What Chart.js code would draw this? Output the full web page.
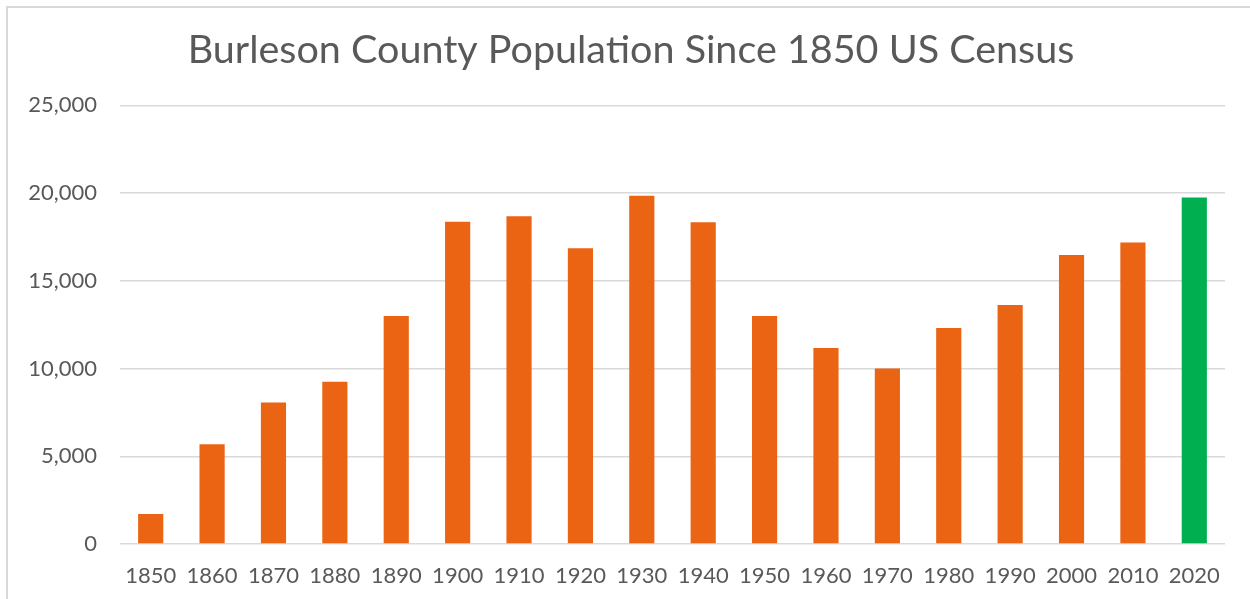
<!DOCTYPE html>
<html>
<head>
<meta charset="utf-8">
<script src="https://cdn.jsdelivr.net/npm/chart.js@4.4.0/dist/chart.umd.min.js"></script>
<style>
  html, body { margin: 0; padding: 0; background: #ffffff; }
  body { width: 1250px; height: 599px; position: relative; overflow: hidden; }
  #frame { position: absolute; left: 6px; top: 6px; width: 1250px; height: 600px;
           border-left: 2px solid #d9d9d9; border-top: 2px solid #d9d9d9; box-sizing: border-box; }
  #c { position: absolute; left: 0; top: 0; }
</style>
</head>
<body>
<div id="frame"></div>
<canvas id="c" width="1250" height="599"></canvas>
<script>
const titleText = "Burleson County Population Since 1850 US Census";
const years = ["1850","1860","1870","1880","1890","1900","1910","1920","1930","1940","1950","1960","1970","1980","1990","2000","2010","2020"];
const population = [1713, 5683, 8072, 9243, 13001, 18367, 18687, 16855, 19848, 18334, 13000, 11177, 9999, 12313, 13625, 16470, 17187, 19750];
const yTicks = [0, 5000, 10000, 15000, 20000, 25000];
const highlightYear = "2020";

const ORANGE = "#EA6414";
const GREEN = "#00B050";
const TEXT = "#595959";
const GRID = "#d9d9d9";
const FONT = "Lato, 'Open Sans', sans-serif";

// shift the title box so it centres over the whole framed chart, as in the reference
const titleShift = {
  id: "titleShift",
  afterLayout(chart) {
    if (chart.titleBlock) { chart.titleBlock.left = 37; }
  }
};

new Chart(document.getElementById("c"), {
  type: "bar",
  plugins: [titleShift],
  data: {
    labels: years,
    datasets: [{
      data: population,
      backgroundColor: ctx => years[ctx.dataIndex] === highlightYear ? GREEN : ORANGE,
      borderWidth: 0,
      barPercentage: 0.41,
      categoryPercentage: 1.0
    }]
  },
  options: {
    responsive: false,
    animation: false,
    devicePixelRatio: 1,
    layout: { padding: { left: 0, right: 25, top: 0, bottom: 0 } },
    plugins: {
      legend: { display: false },
      tooltip: { enabled: false },
      title: {
        display: true,
        text: titleText,
        color: TEXT,
        font: { family: FONT, size: 39.5, weight: "normal" },
        padding: { top: 27, bottom: 31 }
      }
    },
    scales: {
      x: {
        grid: { display: false, drawTicks: false },
        border: { display: false },
        ticks: { color: TEXT, font: { family: FONT, size: 22 }, padding: 19, maxRotation: 0, autoSkip: false },
        afterFit: s => { s.height = 55; }
      },
      y: {
        min: 0,
        max: 25000,
        afterBuildTicks: s => { s.ticks = yTicks.map(v => ({ value: v })); },
        grid: { color: GRID, lineWidth: 1.5, drawTicks: false },
        border: { display: false },
        ticks: {
          color: TEXT,
          font: { family: FONT, size: 22 },
          padding: 23,
          callback: v => v.toLocaleString("en-US")
        },
        afterFit: s => { s.width = 120; }
      }
    }
  }
});
</script>
</body>
</html>
